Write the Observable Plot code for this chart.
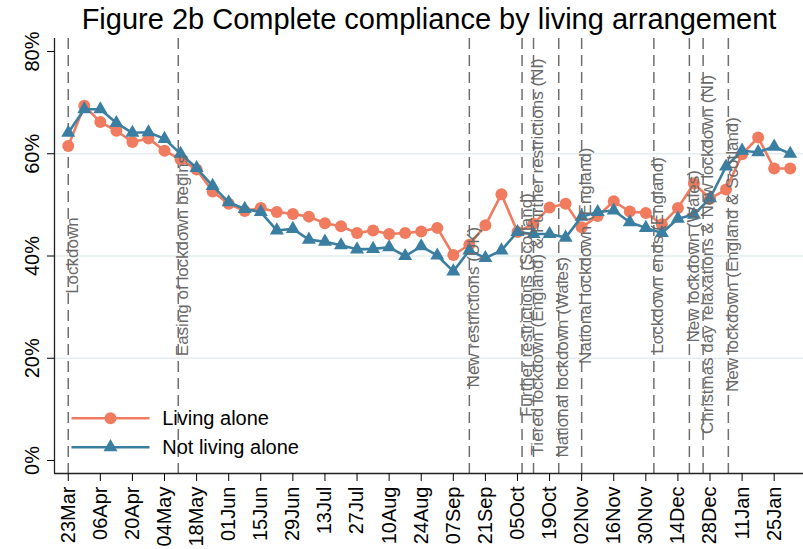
<!DOCTYPE html>
<html><head><meta charset="utf-8">
<script src="https://cdn.jsdelivr.net/npm/d3@7"></script>
<script src="https://cdn.jsdelivr.net/npm/@observablehq/plot@0.6"></script>
<style>
body{margin:0;background:#fff;font-family:"Liberation Sans",Arial,sans-serif;}
#title{height:36px;line-height:36px;font-size:29px;color:#000;white-space:nowrap;position:relative;}
#title span{position:absolute;left:429px;transform:translateX(-50%);top:1px;}
#chart svg{display:block;}
</style></head><body>
<div id="title"><span>Figure 2b Complete compliance by living arrangement</span></div>
<div id="chart"></div>
<script>
// Weekly survey dates
const weeks = ["2020-03-23","2020-03-30","2020-04-06","2020-04-13","2020-04-20","2020-04-27","2020-05-04","2020-05-11","2020-05-18","2020-05-25","2020-06-01","2020-06-08","2020-06-15","2020-06-22","2020-06-29","2020-07-06","2020-07-13","2020-07-20","2020-07-27","2020-08-03","2020-08-10","2020-08-17","2020-08-24","2020-08-31","2020-09-07","2020-09-14","2020-09-21","2020-09-28","2020-10-05","2020-10-12","2020-10-19","2020-10-26","2020-11-02","2020-11-09","2020-11-16","2020-11-23","2020-11-30","2020-12-07","2020-12-14","2020-12-21","2020-12-28","2021-01-04","2021-01-11","2021-01-18","2021-01-25","2021-02-01"];

const seriesNames = ["Living alone", "Not living alone"];

// Complete compliance (%)
const livingAlone = [61.5,69.4,66.2,64.5,62.3,63.0,60.6,58.9,56.9,52.6,50.2,48.8,49.4,48.6,48.2,47.7,46.4,45.8,44.5,45.0,44.3,44.5,44.8,45.5,40.2,42.2,46.0,52.1,44.7,46.3,49.5,50.2,45.6,47.8,50.7,48.7,48.4,46.2,49.4,54.2,51.2,53.0,59.9,63.2,57.1,57.1];
const notLivingAlone = [64.1,68.7,68.7,66.0,64.1,64.2,62.9,60.0,57.2,53.7,50.5,49.2,48.6,45.0,45.3,43.2,42.8,42.1,41.3,41.4,41.7,40.0,41.9,40.1,37.0,41.1,39.6,41.1,44.7,44.3,44.3,43.6,47.7,48.6,48.9,46.6,45.5,44.5,47.3,48.1,51.3,57.5,60.6,60.3,61.4,60.0];

// Axis ticks
const xTickDates = ["2020-03-23","2020-04-06","2020-04-20","2020-05-04","2020-05-18","2020-06-01","2020-06-15","2020-06-29","2020-07-13","2020-07-27","2020-08-10","2020-08-24","2020-09-07","2020-09-21","2020-10-05","2020-10-19","2020-11-02","2020-11-16","2020-11-30","2020-12-14","2020-12-28","2021-01-11","2021-01-25"];
const yTicks = [0, 20, 40, 60, 80];
const yGrid = [20, 40, 60];

// Policy events
const eventDates = ["2020-03-23","2020-05-10","2020-09-14","2020-10-07","2020-10-12","2020-10-23","2020-11-02","2020-12-03T12:00","2020-12-19","2020-12-25","2021-01-05"];
const eventLabels = ["Lockdown","Easing of lockdown begins","New restrictions (UK)","Further restrictions (Scotland)","Tiered lockdown (England) & Further restrictions (NI)","National lockdown (Wales)","National lockdown (England)","Lockdown ends (England)","New lockdown (Wales)","Christmas day relaxations & New lockdown (NI)","New lockdown (England & Scotland)"];
const eventLabelY = [32.6, 20.4, 14.3, 8.5, 1.0, 0.6, 18.9, 20.9, 23.1, 5.2, 13.4];

const colors = ["#f07b5f", "#3a7fa2"];

const parse = s => new Date(s.length > 10 ? s + "Z" : s + "T00:00Z");
const alone = weeks.map((w, i) => ({date: parse(w), v: livingAlone[i]}));
const notAlone = weeks.map((w, i) => ({date: parse(w), v: notLivingAlone[i]}));
const events = eventDates.map((d, i) => ({date: parse(d), label: eventLabels[i], ly: eventLabelY[i]}));
const xDomain = [parse("2020-03-17"), parse("2021-02-06T19:00")];
const yDomain = [-2.54, 82.54];

const hline = {draw(ctx) { ctx.moveTo(-39, 0); ctx.lineTo(39, 0); }};

const chart = Plot.plot({
  width: 803,
  height: 513,
  marginTop: 2,
  marginBottom: 76,
  marginLeft: 54,
  marginRight: 0,
  style: {fontFamily: "Liberation Sans, Arial, sans-serif", color: "black", background: "white", overflow: "visible"},
  x: {type: "utc", domain: xDomain},
  y: {domain: yDomain},
  marks: [
    Plot.gridY(yGrid, {stroke: "#e3ecef", strokeOpacity: 1, strokeWidth: 1.5}),
    Plot.ruleX(events, {x: "date", stroke: "#6f6f6f", strokeWidth: 1.5, strokeDasharray: "11,6"}),
    Plot.line(alone, {x: "date", y: "v", stroke: colors[0], strokeWidth: 2.6}),
    Plot.dot(alone, {x: "date", y: "v", r: 6, fill: colors[0], symbol: "circle"}),
    Plot.line(notAlone, {x: "date", y: "v", stroke: colors[1], strokeWidth: 2.6}),
    Plot.dot(notAlone, {x: "date", y: "v", r: 5.2, fill: colors[1], symbol: "triangle"}),
    Plot.text(events, {x: "date", y: "ly", text: "label", rotate: -90, textAnchor: "start", dx: 4, fill: "#6a6a6a", fontSize: 17}),
    Plot.ruleX([xDomain[0]], {stroke: "#222", strokeWidth: 1.3}),
    Plot.ruleY([yDomain[0]], {stroke: "#222", strokeWidth: 1.3}),
    Plot.axisY({ticks: yTicks, tickFormat: d => d + "%", tickRotate: -90, tickSize: 7, tickPadding: 9, fontSize: 20, label: null}),
    Plot.axisX({ticks: xTickDates.map(parse), tickFormat: d3.utcFormat("%d%b"), tickRotate: -90, tickSize: 8, tickPadding: 5, fontSize: 20, label: null}),
    // legend
    Plot.dot([seriesNames[0]], {frameAnchor: "bottom-left", dx: 56, dy: -55.3, symbol: hline, fill: "none", stroke: colors[0], strokeWidth: 2.6}),
    Plot.dot([seriesNames[0]], {frameAnchor: "bottom-left", dx: 56, dy: -55.3, symbol: "circle", r: 6, fill: colors[0]}),
    Plot.text([seriesNames[0]], {frameAnchor: "bottom-left", dx: 107.7, dy: -55.3, text: d => d, textAnchor: "start", lineAnchor: "middle", fontSize: 20, fill: "black"}),
    Plot.dot([seriesNames[1]], {frameAnchor: "bottom-left", dx: 56, dy: -26.3, symbol: hline, fill: "none", stroke: colors[1], strokeWidth: 2.6}),
    Plot.dot([seriesNames[1]], {frameAnchor: "bottom-left", dx: 56, dy: -26.3, symbol: "triangle", r: 5.2, fill: colors[1]}),
    Plot.text([seriesNames[1]], {frameAnchor: "bottom-left", dx: 107.7, dy: -26.3, text: d => d, textAnchor: "start", lineAnchor: "middle", fontSize: 20, fill: "black"})
  ]
});
document.getElementById("chart").appendChild(chart);
</script>
</body></html>
